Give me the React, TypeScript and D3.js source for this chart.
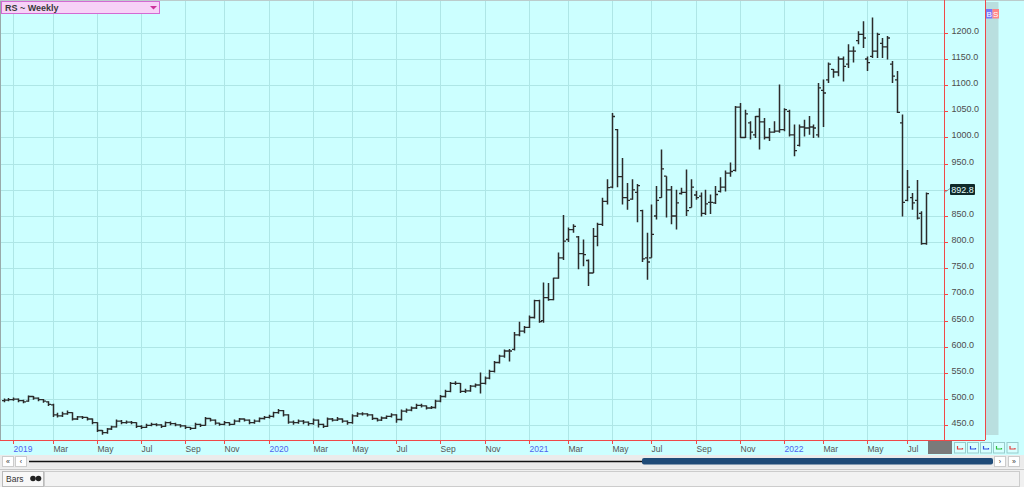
import React from 'react';
import * as d3 from 'd3';

const W = 1024;
const H = 487;

// Weekly bars, first bar week ending 2018-12-21
const START_YEAR = 2018, START_MONTH = 11, START_DAY = 21;
const BAR_COUNT = 189;

const opens = [
  497,498,499,500,497,496,505,502,499,495,
  489,470,468,472,474,462,466,465,462,455,
  440,436,443,447,458,455,456,455,448,446,
  450,452,451,448,455,453,451,449,446,444,
  452,450,463,460,454,452,455,452,458,462,
  460,455,458,463,465,467,474,478,470,456,
  455,458,456,453,460,452,448,462,460,462,
  458,455,468,472,472,470,463,460,464,467,
  470,461,477,479,483,488,487,483,484,496,
  505,515,530,530,515,516,525,527,530,540,
  553,570,582,592,595,623,630,637,656,688,
  650,694,690,731,770,805,824,810,778,765,
  741,811,834,878,905,1015,925,885,882,895,
  860,770,770,850,885,926,900,850,893,895,
  866,890,888,855,876,875,897,905,932,937,
  1058,1000,1028,1005,1040,1030,1000,1010,1012,1015,
  1050,1005,985,1020,1018,1020,1005,1090,1110,1130,
  1125,1150,1140,1165,1185,1197,1150,1155,1165,1180,
  1173,1140,1110,1028,880,885,880,855,797,
];

const highs = [
  501,502,503,501,499,507,506,503,500,496,
  491,474,476,478,475,468,468,466,463,456,
  441,445,449,461,460,459,458,456,450,453,
  455,454,452,457,457,455,452,450,447,455,
  453,466,464,461,455,458,456,461,464,463,
  461,461,465,468,470,476,481,479,471,459,
  461,460,457,463,461,453,465,464,466,463,
  459,471,475,475,473,471,464,467,469,473,
  471,480,482,486,491,491,488,487,499,508,
  518,533,534,531,520,527,530,551,543,556,
  573,585,595,596,628,648,640,660,690,690,
  723,722,732,780,852,828,834,812,805,767,
  827,837,885,920,1047,1016,961,913,920,911,
  862,818,872,907,977,926,907,900,904,939,
  920,898,895,900,891,907,924,937,952,1060,
  1066,1053,1031,1041,1056,1037,1018,1031,1101,1056,
  1053,1025,1025,1034,1041,1025,1104,1111,1143,1131,
  1155,1155,1178,1174,1203,1222,1155,1229,1200,1190,
  1194,1146,1127,1044,938,894,919,859,895,
];

const lows = [
  494,496,497,494,492,495,499,496,493,487,
  466,465,466,470,459,460,462,459,452,437,
  432,434,441,446,452,453,452,445,443,445,
  448,448,445,447,450,448,446,443,441,443,
  447,449,457,451,449,450,449,451,456,457,
  452,453,456,461,463,465,472,467,453,451,
  453,452,449,451,446,445,447,457,458,455,
  451,453,466,469,467,460,457,458,462,465,
  455,459,474,477,481,484,480,481,482,494,
  503,513,527,512,512,514,522,511,528,538,
  551,568,579,572,593,620,626,636,654,646,
  646,688,689,730,766,800,818,748,754,716,
  741,792,831,872,903,905,872,862,881,838,
  762,728,770,843,885,847,834,824,891,850,
  866,881,849,852,854,873,895,897,925,935,
  999,999,996,999,977,996,993,1009,1009,1012,
  1002,964,983,1002,1005,999,1000,1020,1104,1114,
  1117,1107,1133,1143,1178,1171,1127,1152,1152,1152,
  1149,1104,1047,849,878,862,843,795,795,
];

const closes = [
  498,499,500,497,495,505,502,499,496,490,
  470,468,472,474,462,466,465,462,455,440,
  436,443,447,458,455,456,455,448,446,450,
  452,451,448,455,453,451,449,446,444,452,
  450,463,460,454,452,455,452,458,462,460,
  455,458,463,465,467,474,478,470,456,455,
  458,456,453,460,452,448,462,460,462,458,
  455,468,472,472,470,463,460,464,467,470,
  461,477,479,483,488,487,483,484,496,505,
  515,530,530,515,516,525,527,530,540,553,
  570,582,592,592,623,630,637,656,688,648,
  694,690,731,770,802,824,830,778,776,741,
  811,834,878,904,1040,925,885,880,900,908,
  768,762,815,880,940,900,850,875,895,860,
  905,885,855,873,876,891,905,932,935,1058,
  1000,1045,1010,1040,1030,1000,1010,1012,1015,1053,
  1005,975,1020,1018,1020,1018,1095,1085,1140,1125,
  1150,1136,1165,1165,1197,1190,1143,1165,1197,1173,
  1190,1117,1048,876,905,875,846,797,892.8,
];

const priceTicks = [450, 500, 550, 600, 650, 700, 750, 800, 850, 900, 950, 1000, 1050, 1100, 1150, 1200];
const monthNames = ['Jan', 'Feb', 'Mar', 'Apr', 'May', 'Jun', 'Jul', 'Aug', 'Sep', 'Oct', 'Nov', 'Dec'];
const title = 'RS ~ Weekly';
const lastPrice = 892.8;

const FONT = '"Liberation Sans", Arial, sans-serif';
const BG = '#ccffff';
const GRID = '#aee6e6';
const RED = '#f04848';

function buildDates(): Date[] {
  const start = new Date(START_YEAR, START_MONTH, START_DAY);
  const out: Date[] = [];
  for (let i = 0; i < BAR_COUNT; i++) {
    let d = d3.timeDay.offset(start, 7 * i);
    // exchange closed on New Year's Day: bar dated on the previous trading day
    if (d.getMonth() === 0 && d.getDate() === 1) d = d3.timeDay.offset(d, -1);
    out.push(d);
  }
  return out;
}

export default function App() {
  const dates = buildDates();
  const plotRight = 944;
  const plotBottom = 440;

  const x = d3.scaleLinear().domain([0, BAR_COUNT - 1]).range([3.5, 926.4]);
  const y = d3.scaleLinear().domain([450, 1200]).range([425.3, 32.8]);

  const ticks: { i: number; label: string; year: boolean }[] = [];
  for (let i = 1; i < dates.length; i++) {
    const m = dates[i].getMonth();
    if (m !== dates[i - 1].getMonth() && m % 2 === 0) {
      ticks.push({ i, label: m === 0 ? String(dates[i].getFullYear()) : monthNames[m], year: m === 0 });
    }
  }

  let barPath = '';
  for (let i = 0; i < BAR_COUNT; i++) {
    const cx = Math.round(x(i)) + 0.5;
    barPath += `M${cx},${y(highs[i]).toFixed(1)}V${y(lows[i]).toFixed(1)}`;
  }
  let tickPath = '';
  for (let i = 0; i < BAR_COUNT; i++) {
    const cx = Math.round(x(i)) + 0.5;
    tickPath += `M${cx - 2.5},${y(opens[i]).toFixed(1)}H${cx}`;
    tickPath += `M${cx},${y(closes[i]).toFixed(1)}H${cx + 2.5}`;
  }

  const yLast = y(lastPrice);
  const btnX = [954, 967, 980, 993, 1006.5];
  const btnCol = ['#e04040', '#3050e0', '#3050e0', '#30c040', '#e04040'];

  return (
    <div style={{ position: 'absolute', left: 0, top: 0, width: W, height: H }}>
      <svg width={W} height={H} style={{ display: 'block', fontFamily: FONT }}>
        <rect x={0} y={0} width={W} height={455} fill={BG} />
        {/* grid */}
        <g>
          {priceTicks.map((v) => (
            <line key={'h' + v} x1={0} x2={plotRight} y1={Math.round(y(v)) + 0.5} y2={Math.round(y(v)) + 0.5} stroke={GRID} strokeWidth={1} />
          ))}
          {ticks.map((t) => (
            <line key={'v' + t.i} x1={Math.round(x(t.i)) + 0.5} x2={Math.round(x(t.i)) + 0.5} y1={0} y2={plotBottom} stroke={GRID} strokeWidth={1} />
          ))}
        </g>
        {/* bars */}
        <g>
          <path d={barPath} stroke="#2b2b2b" strokeWidth={1.5} fill="none" />
          <path d={tickPath} stroke="#2b2b2b" strokeWidth={1.3} fill="none" />
        </g>
        {/* borders */}
        <line x1={0.5} x2={0.5} y1={0} y2={plotBottom} stroke="#9aa" strokeWidth={1} />
        <line x1={0} x2={W} y1={0.5} y2={0.5} stroke="#bcc" strokeWidth={1} />

        {/* right axis */}
        <line x1={plotRight + 0.5} x2={plotRight + 0.5} y1={0} y2={plotBottom} stroke={RED} strokeWidth={1} />
        <line x1={985.5} x2={985.5} y1={0} y2={plotBottom} stroke={RED} strokeWidth={1} />
        {priceTicks.map((v) => (
          <g key={'yt' + v}>
            <line x1={plotRight} x2={plotRight + 4} y1={Math.round(y(v)) + 0.5} y2={Math.round(y(v)) + 0.5} stroke={RED} strokeWidth={1} />
            <text x={951.5} y={y(v) + 1} fontSize={9} fill="#4d4d4d">{v.toFixed(1)}</text>
          </g>
        ))}
        {/* last price */}
        <line x1={944.5} y1={yLast - 1} x2={950} y2={yLast - 5} stroke="#8a9a9a" strokeWidth={1} />
        <rect x={950} y={yLast - 9.6} width={25} height={11} fill="#0f2a2a" rx={1} />
        <text x={962.5} y={yLast - 0.8} fontSize={9} fill="#e6ffff" textAnchor="middle">{lastPrice.toFixed(1)}</text>

        {/* side strip */}
        <rect x={986} y={2} width={12.5} height={433} fill="#b9dfdf" />
        <rect x={986} y={9} width={6.5} height={9.5} fill="#7878f8" />
        <rect x={992.5} y={9} width={6.5} height={9.5} fill="#ff8585" />
        <text x={989.2} y={16.8} fontSize={8} fill="#fff" textAnchor="middle">B</text>
        <text x={995.7} y={16.8} fontSize={8} fill="#fff" textAnchor="middle">S</text>

        {/* bottom axis */}
        <line x1={0} x2={985} y1={plotBottom + 0.5} y2={plotBottom + 0.5} stroke={RED} strokeWidth={1} />
        {ticks.map((t) => {
          const tx = Math.round(x(t.i)) + 0.5;
          return (
            <g key={'xt' + t.i}>
              <line x1={tx} x2={tx} y1={plotBottom} y2={plotBottom + 4} stroke={RED} strokeWidth={1} />
              <text x={tx} y={451.5} fontSize={8.5} fill={t.year ? '#4f63f0' : '#555'}>{t.label}</text>
            </g>
          );
        })}
        <rect x={928} y={441} width={24} height={13} fill="#7a7a7a" />
        {btnX.map((bx, k) => (
          <g key={'btn' + k}>
            <rect x={bx + 0.5} y={442.5} width={11} height={10.5} fill="#d8ffff" stroke="#9cc" strokeWidth={1} />
            <path d={`M${bx + 3.5},${446}V${449}H${bx + 8.5}V${448}`} stroke={btnCol[k]} strokeWidth={1.2} fill="none" />
          </g>
        ))}

        {/* scroll row */}
        <rect x={0} y={455} width={W} height={13} fill="#ebebeb" />
        <rect x={2.5} y={456.5} width={11} height={10} fill="#fff" stroke="#ccc" />
        <rect x={15.5} y={456.5} width={11} height={10} fill="#fff" stroke="#ccc" />
        <text x={8} y={464} fontSize={7} fill="#333" textAnchor="middle">«</text>
        <text x={21} y={464} fontSize={7} fill="#333" textAnchor="middle">‹</text>
        <line x1={29} x2={645} y1={461.5} y2={461.5} stroke="#111" strokeWidth={1.6} />
        <rect x={642} y={458} width={351} height={6.5} rx={2} fill="#1f4b78" />
        <rect x={994.5} y={456.5} width={11} height={10} fill="#fff" stroke="#ccc" />
        <rect x={1008.5} y={456.5} width={11} height={10} fill="#fff" stroke="#ccc" />
        <text x={1000} y={464} fontSize={7} fill="#333" textAnchor="middle">›</text>
        <text x={1014} y={464} fontSize={7} fill="#333" textAnchor="middle">»</text>

        {/* toolbar row */}
        <rect x={0} y={468} width={W} height={19} fill="#f0f0f0" />
        <line x1={0} x2={W} y1={469.5} y2={469.5} stroke="#c8c8c8" />
        <rect x={44.5} y={471.5} width={975} height={15} fill="#f2f2f2" stroke="#ccc" />
        <rect x={2.5} y={471.5} width={41} height={15} fill="#f8f8f8" stroke="#bbb" />
        <text x={6} y={482} fontSize={8.5} fill="#333">Bars</text>
        <circle cx={33} cy={478.5} r={2.8} fill="#222" />
        <circle cx={38.5} cy={478.5} r={2.8} fill="#222" />

        {/* title box */}
        <rect x={1.5} y={1.5} width={158} height={12} fill="#f7d2f7" stroke="#d36ad3" strokeWidth={1} />
        <text x={5} y={11} fontSize={9} fontWeight="bold" fill="#3a3a3a">{title}</text>
        <path d="M150,6 L157,6 L153.5,9.5 Z" fill="#cc3399" />
      </svg>
    </div>
  );
}
